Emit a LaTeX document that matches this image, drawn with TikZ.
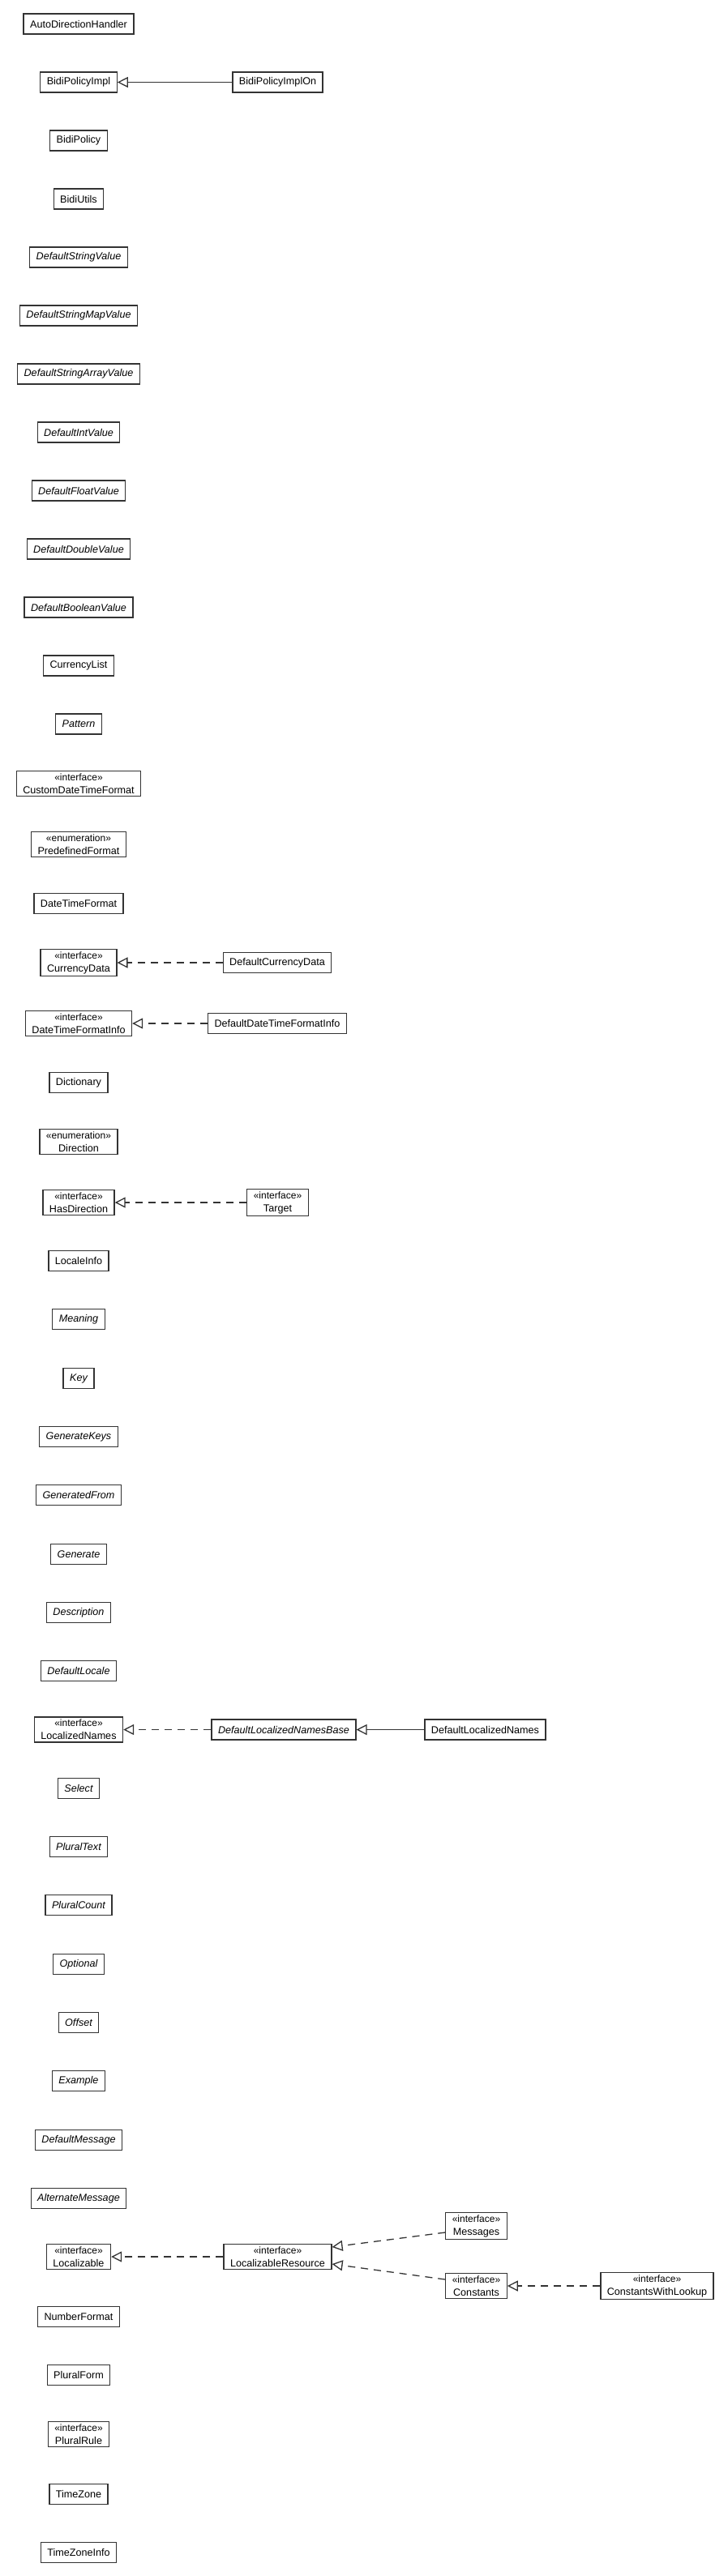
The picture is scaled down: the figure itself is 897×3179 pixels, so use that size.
\documentclass[tikz,border=0pt]{standalone}
\usepackage{fontspec}
\setmainfont{Liberation Sans}
\usetikzlibrary{arrows.meta}
\definecolor{ln}{HTML}{333333}
\tikzset{
  cls/.style={draw=ln, line width=1.3pt, fill=white, inner xsep=8pt, inner ysep=3pt, minimum height=25pt, align=center, font=\fontsize{12.6}{16}\selectfont},
  gen/.style={draw=ln, line width=1.3pt, -{Triangle[open, length=13pt, width=13pt, line width=1.3pt]}},
  real/.style={gen, dash pattern=on 9pt off 7pt},
}
\newcommand{\ster}[2]{\fontsize{12}{16}\selectfont «#1»\\\fontsize{12.6}{16}\selectfont #2}
\begin{document}
\begin{tikzpicture}[x=1pt,y=-1pt]
\useasboundingbox (0,0) rectangle (897,3179);
\def\cx{97}
\node[cls] (n0) at (\cx,29.5) {AutoDirectionHandler};
\node[cls] (n1) at (\cx,101.5) {BidiPolicyImpl};
\node[cls] (n1b) at (342.5,101.5) {BidiPolicyImplOn};
\node[cls] (n2) at (\cx,173.5) {BidiPolicy};
\node[cls] (n3) at (\cx,245.5) {BidiUtils};
\node[cls] (n4) at (\cx,317.5) {\itshape DefaultStringValue};
\node[cls] (n5) at (\cx,389.5) {\itshape DefaultStringMapValue};
\node[cls] (n6) at (\cx,461.5) {\itshape DefaultStringArrayValue};
\node[cls] (n7) at (\cx,533.5) {\itshape DefaultIntValue};
\node[cls] (n8) at (\cx,605.5) {\itshape DefaultFloatValue};
\node[cls] (n9) at (\cx,677.5) {\itshape DefaultDoubleValue};
\node[cls] (n10) at (\cx,749.5) {\itshape DefaultBooleanValue};
\node[cls] (n11) at (\cx,821.5) {CurrencyList};
\node[cls] (n12) at (\cx,893.5) {\itshape Pattern};
\node[cls] (n13) at (\cx,967) {\ster{interface}{CustomDateTimeFormat}};
\node[cls] (n14) at (\cx,1042) {\ster{enumeration}{PredefinedFormat}};
\node[cls] (n15) at (\cx,1115) {DateTimeFormat};
\node[cls] (n16) at (\cx,1188) {\ster{interface}{CurrencyData}};
\node[cls] (n16b) at (342,1188) {DefaultCurrencyData};
\node[cls] (n17) at (\cx,1263) {\ster{interface}{DateTimeFormatInfo}};
\node[cls] (n17b) at (342,1263) {DefaultDateTimeFormatInfo};
\node[cls] (n18) at (\cx,1336) {Dictionary};
\node[cls] (n19) at (\cx,1409) {\ster{enumeration}{Direction}};
\node[cls] (n20) at (\cx,1484) {\ster{interface}{HasDirection}};
\node[cls] (n20b) at (342.5,1484) {\ster{interface}{Target}};
\node[cls] (n21) at (\cx,1556) {LocaleInfo};
\node[cls] (n22) at (\cx,1628) {\itshape Meaning};
\node[cls] (n23) at (\cx,1701) {\itshape Key};
\node[cls] (n24) at (\cx,1773) {\itshape GenerateKeys};
\node[cls] (n25) at (\cx,1845) {\itshape GeneratedFrom};
\node[cls] (n26) at (\cx,1918) {\itshape Generate};
\node[cls] (n27) at (\cx,1990) {\itshape Description};
\node[cls] (n28) at (\cx,2062) {\itshape DefaultLocale};
\node[cls] (n29) at (\cx,2134.5) {\ster{interface}{LocalizedNames}};
\node[cls] (n29b) at (350,2134.5) {\itshape DefaultLocalizedNamesBase};
\node[cls] (n29c) at (598.5,2134.5) {DefaultLocalizedNames};
\node[cls] (n30) at (\cx,2207) {\itshape Select};
\node[cls] (n31) at (\cx,2279) {\itshape PluralText};
\node[cls] (n32) at (\cx,2351) {\itshape PluralCount};
\node[cls] (n33) at (\cx,2424) {\itshape Optional};
\node[cls] (n34) at (\cx,2496) {\itshape Offset};
\node[cls] (n35) at (\cx,2568) {\itshape Example};
\node[cls] (n36) at (\cx,2641) {\itshape DefaultMessage};
\node[cls] (n37) at (\cx,2713) {\itshape AlternateMessage};
\node[cls] (n38) at (\cx,2785) {\ster{interface}{Localizable}};
\node[cls] (lr) at (342.5,2785) {\ster{interface}{LocalizableResource}};
\node[cls] (msg) at (587.5,2747) {\ster{interface}{Messages}};
\node[cls] (cst) at (587.5,2821) {\ster{interface}{Constants}};
\node[cls] (cwl) at (810.5,2821) {\ster{interface}{ConstantsWithLookup}};
\node[cls] (n39) at (\cx,2859) {NumberFormat};
\node[cls] (n40) at (\cx,2931) {PluralForm};
\node[cls] (n41) at (\cx,3004) {\ster{interface}{PluralRule}};
\node[cls] (n42) at (\cx,3078) {TimeZone};
\node[cls] (n43) at (\cx,3150) {TimeZoneInfo};
\draw[gen] (n1b) -- (n1);
\draw[real] (n16b) -- (n16);
\draw[real] (n17b) -- (n17);
\draw[real] (n20b) -- (n20);
\draw[real] (n29b) -- (n29);
\draw[gen] (n29c) -- (n29b);
\draw[real] (lr) -- (n38);
\draw[real] ([yshift=-8pt]msg.west) -- ([yshift=12pt]lr.east);
\draw[real] ([yshift=8pt]cst.west) -- ([yshift=-9pt]lr.east);
\draw[real] (cwl) -- (cst);
\end{tikzpicture}
\end{document}
